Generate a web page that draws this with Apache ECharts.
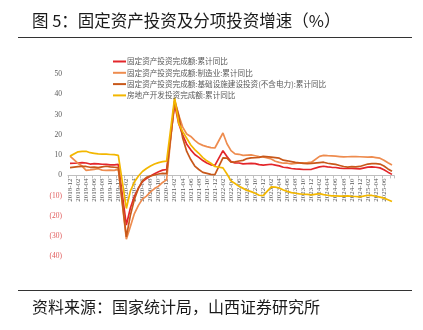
<!DOCTYPE html>
<html>
<head>
<meta charset="utf-8">
<script src="https://cdn.jsdelivr.net/npm/echarts@6/dist/echarts.min.js"></script>
<style>html,body{margin:0;padding:0;background:#fff;}#c{width:423px;height:330px;}</style>
</head>
<body>
<div id="c"></div>
<script>
// categories: monthly 2018-12 .. 2025-08 (January has no data)
const categories = ['2018-12'];
for (let y = 2019; y <= 2025; y++) {
  for (let m = 1; m <= 12; m++) {
    if (y === 2025 && m > 8) break;
    categories.push(y + '-' + (m < 10 ? '0' + m : m));
  }
}
const seriesNames = [
  '固定资产投资完成额:累计同比',
  '固定资产投资完成额:制造业:累计同比',
  '固定资产投资完成额:基础设施建设投资(不含电力):累计同比',
  '房地产开发投资完成额:累计同比'
];
const faiTotal = [5.9,
  null,6.1,6.3,6.1,5.6,5.8,5.7,5.5,5.4,5.2,5.2,5.4,
  null,-24.5,-16.1,-10.3,-6.3,-3.1,-1.6,-0.3,0.8,1.8,2.6,2.9,
  null,35.0,25.6,19.9,15.4,12.6,10.3,8.9,7.3,6.1,5.2,4.9,
  null,12.2,9.3,6.8,6.2,6.1,5.7,5.8,5.9,5.8,5.3,5.1,
  null,5.5,5.1,4.7,4.0,3.8,3.4,3.2,3.1,2.9,2.9,3.0,
  null,4.2,4.5,4.2,4.0,3.9,3.6,3.4,3.4,3.4,3.3,3.2,
  null,4.1,4.2,4.0,3.7,2.8,1.6,0.5];
const faiManufacturing = [9.5,
  null,5.9,4.6,2.5,2.7,3.0,3.3,2.6,2.5,2.6,2.5,3.1,
  null,-31.5,-25.2,-18.8,-14.8,-11.7,-10.2,-8.1,-6.5,-5.3,-3.5,-2.2,
  null,37.3,29.8,23.8,20.4,19.2,17.3,15.7,14.8,14.2,13.7,13.5,
  null,20.9,15.6,12.2,10.6,10.4,9.9,10.0,10.1,9.7,9.3,9.1,
  null,8.1,7.0,6.4,6.0,6.0,5.7,5.9,6.2,6.2,6.3,6.5,
  null,9.4,9.9,9.7,9.6,9.5,9.3,9.1,9.2,9.3,9.3,9.2,
  null,9.0,9.1,8.8,8.5,7.5,6.2,5.1];
const faiInfra = [3.8,
  null,4.3,4.4,4.4,4.0,4.1,3.8,4.2,4.5,4.2,4.0,3.8,
  null,-30.3,-19.7,-11.8,-6.3,-2.7,-1.0,-0.3,0.2,0.7,1.0,0.9,
  null,36.6,29.7,18.4,11.8,7.8,4.6,2.9,1.5,1.0,0.5,0.4,
  null,8.6,8.5,6.5,6.7,7.1,7.4,8.3,8.6,8.7,8.9,9.4,
  null,9.0,8.8,8.5,7.5,7.2,6.8,6.4,6.2,5.9,5.8,5.9,
  null,6.3,6.5,6.0,5.7,5.4,4.9,4.4,4.1,4.3,4.2,4.4,
  null,5.6,5.8,5.8,5.6,4.6,3.2,2.0];
const realEstate = [9.5,
  null,11.6,11.8,11.9,11.2,10.9,10.6,10.5,10.5,10.3,10.2,9.9,
  null,-16.3,-7.7,-3.3,-0.3,1.9,3.4,4.6,5.6,6.3,6.8,7.0,
  null,38.3,25.6,21.6,18.3,15.0,12.7,10.9,8.8,7.2,6.0,4.4,
  null,3.7,0.7,-2.7,-4.0,-5.4,-6.4,-7.4,-8.0,-8.8,-9.8,-10.0,
  null,-5.7,-5.8,-6.2,-7.2,-7.9,-8.5,-8.8,-9.1,-9.3,-9.4,-9.6,
  null,-9.0,-9.5,-9.8,-10.1,-10.1,-10.2,-10.2,-10.1,-10.3,-10.4,-10.6,
  null,-9.8,-9.9,-10.3,-10.7,-11.2,-12.0,-12.9];
const yTicks = { min: -40, max: 50, interval: 10 };
const colors = ['#e3262b', '#ee8c4f', '#c8581a', '#f3b700'];
const dataSets = [faiTotal, faiManufacturing, faiInfra, realEstate];

const gridTop = 74, gridBottomPx = 256.5;
const chart = echarts.init(document.getElementById('c'), null, { renderer: 'canvas' });
const cjk = '"Noto Sans CJK SC", sans-serif';
const serif = '"Liberation Serif", serif';
// place the category axis on the zero line
const zeroOffset = -(gridBottomPx - gridTop) * (0 - yTicks.min) / (yTicks.max - yTicks.min);
chart.setOption({
  animation: false,
  backgroundColor: '#fff',
  color: colors,
  title: [
    { text: '图 5：固定资产投资及分项投资增速（%）', left: 27, top: 7,
      textStyle: { fontFamily: cjk, fontSize: 16.5, fontWeight: 'normal', color: '#1a1a1a' } },
    { text: '资料来源：国家统计局，山西证券研究所', left: 27, top: 294,
      textStyle: { fontFamily: cjk, fontSize: 16, fontWeight: 'normal', color: '#1a1a1a' } }
  ],
  graphic: [
    { type: 'line', shape: { x1: 18, y1: 37.5, x2: 412, y2: 37.5 }, style: { stroke: '#333', lineWidth: 1 } },
    { type: 'line', shape: { x1: 18, y1: 290.5, x2: 412, y2: 290.5 }, style: { stroke: '#333', lineWidth: 1 } }
  ],
  legend: {
    orient: 'vertical', left: 113, top: 57, padding: 0,
    itemWidth: 13, itemHeight: 2, itemGap: 2.3,
    icon: 'rect',
    data: seriesNames,
    textStyle: { fontFamily: cjk, fontSize: 7.6, color: '#595959', lineHeight: 9, padding: [0, 0, 0, -4] }
  },
  grid: { left: 68, right: 29, top: gridTop, bottom: 330 - gridBottomPx },
  xAxis: {
    type: 'category', data: categories, boundaryGap: true,
    offset: zeroOffset,
    axisLine: { onZero: false, lineStyle: { color: '#bfbfbf', width: 1 } },
    axisTick: { show: true, length: 3, interval: 1, lineStyle: { color: '#bfbfbf' } },
    axisLabel: {
      rotate: 90, fontFamily: serif, fontSize: 7, color: '#595959', margin: 3,
      interval: function (i) { return i % 2 === 0 && i <= 78; }
    },
    splitLine: { show: false }
  },
  yAxis: {
    type: 'value', min: yTicks.min, max: yTicks.max, interval: yTicks.interval,
    axisLine: { show: false }, axisTick: { show: false }, splitLine: { show: false },
    axisLabel: {
      margin: 6, fontFamily: serif, fontSize: 7.5,
      formatter: function (v) { return v < 0 ? '{n|(' + (-v) + ')}' : '{p|' + v + '}'; },
      rich: {
        n: { fontFamily: serif, fontSize: 7.5, color: '#e05a5a' },
        p: { fontFamily: serif, fontSize: 7.5, color: '#595959' }
      }
    }
  },
  series: seriesNames.map(function (name, k) {
    return {
      name: name, type: 'line', data: dataSets[k], connectNulls: true,
      symbol: 'none', smooth: false,
      lineStyle: { width: 1.7, color: colors[k] }
    };
  })
});
</script>
</body>
</html>
